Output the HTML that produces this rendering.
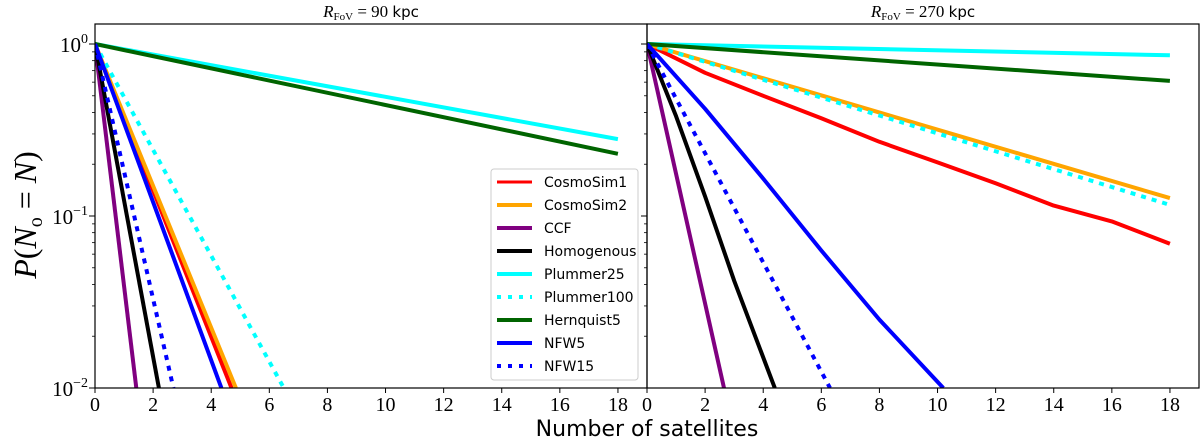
<!DOCTYPE html>
<html><head><meta charset="utf-8"><style>
body{margin:0;background:#fff;}
svg{display:block;font-family:"Liberation Serif",serif;}
</style></head><body>
<svg id="chart" width="1200" height="441" viewBox="0 0 1200 441" xmlns="http://www.w3.org/2000/svg"></svg>
<script>
// ---- data (N, P) ----
const seriesNames = ["CosmoSim1","CosmoSim2","CCF","Homogenous","Plummer25","Plummer100","Hernquist5","NFW5","NFW15"];
const seriesColors = ["#ff0000","#ffa500","#800080","#000000","#00ffff","#00ffff","#006400","#0000ff","#0000ff"];
const seriesDotted = [false,false,false,false,false,true,false,false,true];
const xTicks = [0,2,4,6,8,10,12,14,16,18];
const yTickLabels = ["10","10","10"];
const yTickExps = ["0","\u22121","\u22122"];
const yTickValues = [1,0.1,0.01];
const panelTitles = ["90","270"];
// left panel (R_FoV = 90 kpc)
const L_CosmoSim1_N = [0,4.7], L_CosmoSim1_P = [1,0.01];
const L_CosmoSim2_N = [0,4.85], L_CosmoSim2_P = [1,0.01];
const L_CCF_N = [0,1.42], L_CCF_P = [1,0.01];
const L_Homog_N = [0,2.2], L_Homog_P = [1,0.01];
const L_Plum25_N = [0,18], L_Plum25_P = [1,0.28];
const L_Plum100_N = [0,6.5], L_Plum100_P = [1,0.01];
const L_Hern5_N = [0,18], L_Hern5_P = [1,0.23];
const L_NFW5_N = [0,4.35], L_NFW5_P = [1,0.01];
const L_NFW15_N = [0,2.7], L_NFW15_P = [1,0.01];
// right panel (R_FoV = 270 kpc)
const R_CosmoSim1_N = [0,2,4,6,8,10,12,14,16,18], R_CosmoSim1_P = [1,0.68,0.50,0.37,0.27,0.205,0.155,0.115,0.093,0.069];
const R_CosmoSim2_N = [0,18], R_CosmoSim2_P = [1,0.127];
const R_CCF_N = [0,2.65], R_CCF_P = [1,0.01];
const R_Homog_N = [0,1,2,3,4.4], R_Homog_P = [1,0.38,0.13,0.042,0.01];
const R_Plum25_N = [0,18], R_Plum25_P = [1,0.86];
const R_Plum100_N = [0,18], R_Plum100_P = [1,0.116];
const R_Hern5_N = [0,18], R_Hern5_P = [1,0.61];
const R_NFW5_N = [0,2,4,6,8,10.2], R_NFW5_P = [1,0.42,0.165,0.063,0.025,0.01];
const R_NFW15_N = [0,6.3], R_NFW15_P = [1,0.01];

const panels = [
  {x0:95,x1:647,series:[[L_CosmoSim1_N,L_CosmoSim1_P],[L_CosmoSim2_N,L_CosmoSim2_P],[L_CCF_N,L_CCF_P],[L_Homog_N,L_Homog_P],[L_Plum25_N,L_Plum25_P],[L_Plum100_N,L_Plum100_P],[L_Hern5_N,L_Hern5_P],[L_NFW5_N,L_NFW5_P],[L_NFW15_N,L_NFW15_P]]},
  {x0:647,x1:1199,series:[[R_CosmoSim1_N,R_CosmoSim1_P],[R_CosmoSim2_N,R_CosmoSim2_P],[R_CCF_N,R_CCF_P],[R_Homog_N,R_Homog_P],[R_Plum25_N,R_Plum25_P],[R_Plum100_N,R_Plum100_P],[R_Hern5_N,R_Hern5_P],[R_NFW5_N,R_NFW5_P],[R_NFW15_N,R_NFW15_P]]}
];
const yTop=24,yBot=388,xmax=19;
const pxDec=172;
function yS(p){return yBot-(Math.log10(p)+2)*pxDec;}
const svg=document.getElementById('chart');
const NS="http://www.w3.org/2000/svg";
function mk(t,a,parent){const e=document.createElementNS(NS,t);for(const k in a)e.setAttribute(k,a[k]);(parent||svg).appendChild(e);return e;}

panels.forEach((pn,pi)=>{
  const xS=n=>pn.x0+n*(pn.x1-pn.x0)/xmax;
  const g=mk('g',{});
  
  
  const cp=mk('clipPath',{id:'cp'+pi},g);
  mk('rect',{x:pn.x0,y:yTop,width:pn.x1-pn.x0,height:yBot-yTop},cp);
  const lg=mk('g',{'clip-path':'url(#cp'+pi+')'},g);
  pn.series.forEach((s,si)=>{
    const pts=s[0].map((n,i)=>xS(n).toFixed(1)+','+yS(s[1][i]).toFixed(1)).join(' ');
    const pl=mk('polyline',{points:pts,fill:'none',stroke:seriesColors[si],'stroke-width':4,'stroke-linejoin':'round'},lg);
    if(seriesDotted[si])pl.setAttribute('stroke-dasharray','5,6');
    
    
  });
  const fr=mk('rect',{x:pn.x0,y:yTop,width:pn.x1-pn.x0,height:yBot-yTop,fill:'none',stroke:'#000','stroke-width':1.2},g);
  
  
  xTicks.forEach(t=>{
    const x=xS(t);
    mk('line',{x1:x,y1:yBot,x2:x,y2:yBot+5,stroke:'#000','stroke-width':1},g);
    const tx=mk('text',{x:x,y:yBot+23,'text-anchor':'middle','font-size':20},g);
    tx.textContent=t;
    
    
  });
  for(let d=-2;d<=0;d++){
    const y=yS(Math.pow(10,d));
    mk('line',{x1:pn.x0-6,y1:y,x2:pn.x0,y2:y,stroke:'#000','stroke-width':1},g);
    if(d<0)for(let m=2;m<=9;m++){const ym=yS(m*Math.pow(10,d));mk('line',{x1:pn.x0-3,y1:ym,x2:pn.x0,y2:ym,stroke:'#000','stroke-width':0.8},g);}
  }
  const tt=mk('text',{x:(pn.x0+pn.x1)/2,y:17,'text-anchor':'middle','font-size':17},g);
  tt.innerHTML='<tspan font-style="italic">R</tspan><tspan font-size="11" dy="3">FoV</tspan><tspan dy="-3"> = '+panelTitles[pi]+' </tspan><tspan font-family="DejaVu Sans, sans-serif" font-size="15">kpc</tspan>';
  
  
});
yTickValues.forEach((v,i)=>{
  const t=mk('text',{x:88,y:yS(v)+8,'text-anchor':'end','font-size':21});
  t.innerHTML=yTickLabels[i]+'<tspan font-size="14" dy="-9">'+yTickExps[i]+'</tspan>';
  
  
});
</script>
<svg style="position:absolute;left:0;top:0" width="1200" height="441">
  <text x="0" y="0" transform="translate(36,215) rotate(-90)" text-anchor="middle" font-family="Liberation Serif,serif" font-size="32"><tspan font-style="italic">P</tspan>(<tspan font-style="italic">N</tspan><tspan font-size="20" dy="6">o</tspan><tspan dy="-6"> = </tspan><tspan font-style="italic">N</tspan>)</text>
  <text x="647" y="436" text-anchor="middle" font-family="DejaVu Sans,Liberation Sans,sans-serif" font-size="22">Number of satellites</text>
  <g font-family="DejaVu Sans,Liberation Sans,sans-serif" font-size="14">
    <rect x="491" y="169" width="147" height="211" rx="3" fill="#fff" fill-opacity="0.9" stroke="#ccc"/>
    <g><line x1="497" y1="182" x2="532" y2="182" stroke="#ff0000" stroke-width="3"/><text x="544" y="187">CosmoSim1</text></g>
    <g><line x1="497" y1="205" x2="532" y2="205" stroke="#ffa500" stroke-width="4"/><text x="544" y="210">CosmoSim2</text></g>
    <g><line x1="497" y1="228" x2="532" y2="228" stroke="#800080" stroke-width="4"/><text x="544" y="233">CCF</text></g>
    <g><line x1="497" y1="251" x2="532" y2="251" stroke="#000" stroke-width="4"/><text x="544" y="256">Homogenous</text></g>
    <g><line x1="497" y1="274" x2="532" y2="274" stroke="#00ffff" stroke-width="4"/><text x="544" y="279">Plummer25</text></g>
    <g><line x1="497" y1="297" x2="532" y2="297" stroke="#00ffff" stroke-width="4" stroke-dasharray="4,7"/><text x="544" y="302">Plummer100</text></g>
    <g><line x1="497" y1="320" x2="532" y2="320" stroke="#006400" stroke-width="4"/><text x="544" y="325">Hernquist5</text></g>
    <g><line x1="497" y1="343" x2="532" y2="343" stroke="#0000ff" stroke-width="4"/><text x="544" y="348">NFW5</text></g>
    <g><line x1="497" y1="366" x2="532" y2="366" stroke="#0000ff" stroke-width="4" stroke-dasharray="4,7"/><text x="544" y="371">NFW15</text></g>
  </g>
</svg>
</body></html>
